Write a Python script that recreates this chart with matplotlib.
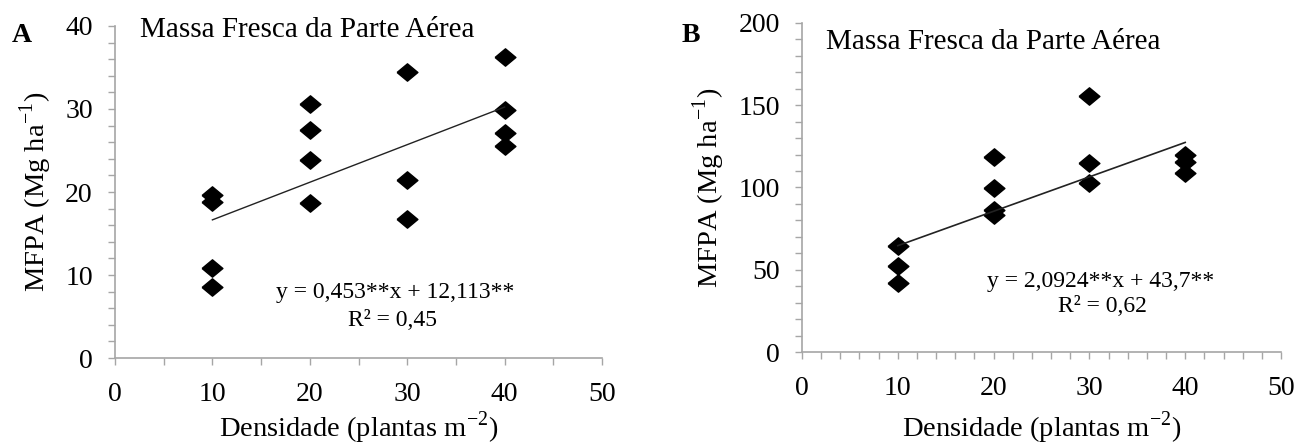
import numpy as np
import matplotlib
matplotlib.use('Agg')
import matplotlib.pyplot as plt
from matplotlib.ticker import MultipleLocator

plt.rcParams['font.family'] = ['Liberation Serif', 'DejaVu Serif']
plt.rcParams['mathtext.fontset'] = 'custom'
plt.rcParams['mathtext.rm'] = 'Liberation Serif'

# dados
dens = [10, 20, 30, 40]
# painel A - MFPA (Mg ha-1)
a_x = [10, 10, 10, 10, 20, 20, 20, 20, 30, 30, 30, 40, 40, 40, 40]
a_y = [19.6, 18.8, 10.9, 8.6, 30.6, 27.5, 23.9, 18.7, 34.5, 21.5, 16.8, 36.3, 29.9, 27.1, 25.5]
a_coef = [0.453, 12.113]
# painel B
b_x = [10, 10, 10, 20, 20, 20, 20, 30, 30, 30, 40, 40, 40]
b_y = [64.6, 52.1, 41.9, 118.3, 99.7, 86.5, 83.5, 155.8, 114.9, 102.7, 119.6, 115.8, 108.8]
b_coef = [2.0924, 43.7]

titulo = 'Massa Fresca da Parte Aérea'
xlab = 'Densidade (plantas m$^{-2}$)'
ylab = 'MFPA (Mg ha$^{-1}$)'

# losango um pouco mais largo que alto (como no Excel)
losango = [(-1.2, 0), (0, 1), (1.2, 0), (0, -1), (-1.2, 0)]

W, H = 1296, 448
fig = plt.figure(figsize=(W / 100, H / 100), dpi=100)
axA = fig.add_axes([115 / W, 1 - 358 / H, 487 / W, 332 / H])
axB = fig.add_axes([802 / W, 1 - 352 / H, 479 / W, 329 / H])


def estilo(ax, ymax, ymaj, ymin, xmin, lpad):
    ax.set_xlim(0, 50)
    ax.set_ylim(0, ymax)
    ax.xaxis.set_major_locator(MultipleLocator(10))
    ax.xaxis.set_minor_locator(MultipleLocator(xmin))
    ax.yaxis.set_major_locator(MultipleLocator(ymaj))
    ax.yaxis.set_minor_locator(MultipleLocator(ymin))
    for s in ['top', 'right']:
        ax.spines[s].set_visible(False)
    for s in ['left', 'bottom']:
        ax.spines[s].set_color('#a6a6a6')
        ax.spines[s].set_linewidth(1.2)
    ax.tick_params(which='both', direction='out', length=5, width=1.0, color='#a6a6a6')
    ax.tick_params(axis='y', which='major', labelsize=20, pad=11)
    ax.tick_params(axis='x', which='major', labelsize=20, pad=12)
    ax.set_xlabel(xlab, fontsize=20.5, labelpad=lpad)
    ax.set_ylabel(ylab, fontsize=20.5, labelpad=8)


estilo(axA, 40, 10, 2, 5, 2)
estilo(axB, 200, 50, 10, 2, 6)

axA.plot(a_x, a_y, marker=losango, ls='none', color='black', ms=15)
xl = np.array([min(dens), max(dens)])
axA.plot(xl, a_coef[0] * xl + a_coef[1], color='#222222', lw=1)

axB.plot(b_x, b_y, marker=losango, ls='none', color='black', ms=15)
axB.plot(xl, b_coef[0] * xl + b_coef[1], color='#222222', lw=1.2)

# textos
fig.text(140 / W, 1 - 30 / H, titulo, fontsize=21, va='center', ha='left')
fig.text(826 / W, 1 - 42 / H, titulo, fontsize=21, va='center', ha='left')
fig.text(22 / W, 1 - 36 / H, 'A', fontsize=20, fontweight='bold', ha='center', va='center')
fig.text(691 / W, 1 - 35 / H, 'B', fontsize=20, fontweight='bold', ha='center', va='center')

fig.text(395 / W, 1 - 292 / H, 'y = 0,453**x + 12,113**', fontsize=17, ha='center', va='center')
fig.text(393 / W, 1 - 320 / H, 'R² = 0,45', fontsize=17, ha='center', va='center')
fig.text(1101 / W, 1 - 282 / H, 'y = 2,0924**x + 43,7**', fontsize=17, ha='center', va='center')
fig.text(1102 / W, 1 - 307 / H, 'R² = 0,62', fontsize=17, ha='center', va='center')

fig.savefig('out.png', dpi=100)
